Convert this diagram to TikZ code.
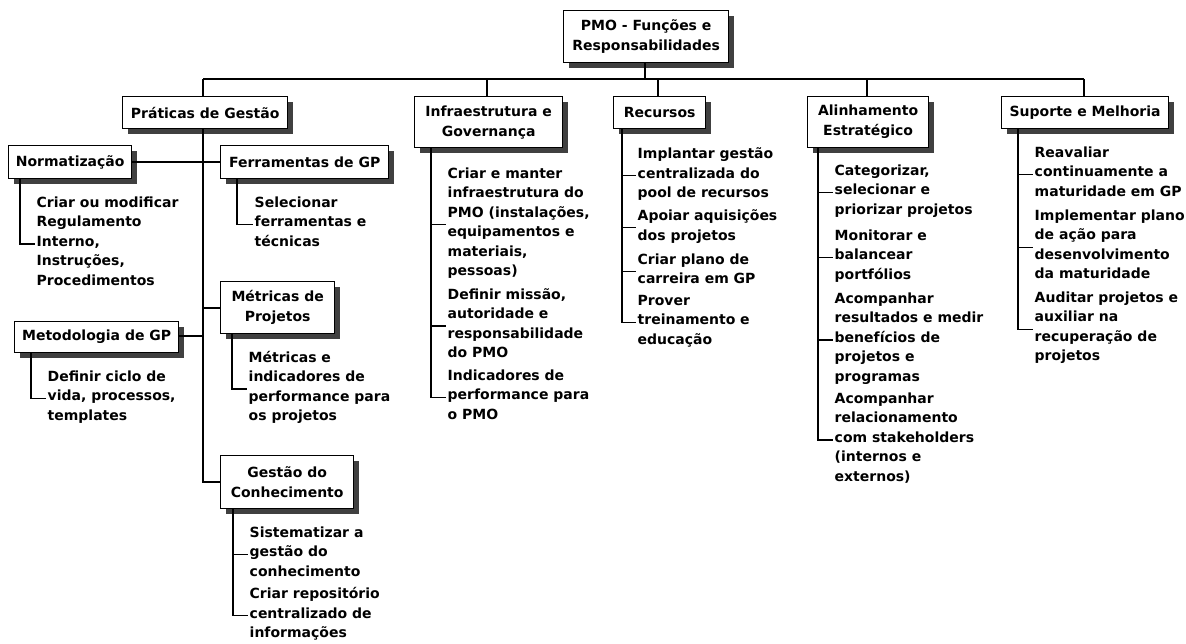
\documentclass[tikz,border=0pt]{standalone}
\usepackage{fontspec}
\setmainfont{DejaVu Sans}
\usetikzlibrary{calc}
\definecolor{shadowgray}{HTML}{404040}
\tikzset{
  every picture/.style={x=1pt,y=-1pt},
  conn/.style={draw=black, line width=1.3pt},
  box/.style={draw=black, line width=1.3pt, fill=white, inner sep=0pt, align=center,
    font=\fontsize{14}{20}\selectfont\bfseries},
  item/.style={inner xsep=1.5pt, inner ysep=0pt, align=left, anchor=west,
    font=\fontsize{14}{19.5}\selectfont\bfseries,
    execute at begin node=\strut, execute at end node=\strut},
}
% box: name, x1, y1, x2, y2, text
\newcommand{\mybox}[6]{%
  \fill[shadowgray] (#2+6,#3+6) rectangle (#4+6,#5+6);
  \node[box, minimum width=#4-#2, minimum height=#5-#3, anchor=north west] (#1) at (#2,#3) {#6};
}
\begin{document}
\begin{tikzpicture}
\useasboundingbox (0,0) rectangle (1186,644);
\fill[white] (0,0) rectangle (1186,644);

\coordinate (hl) at (203,79);
\coordinate (hr) at (1084,79);

\mybox{root}{563}{10}{728}{62}{PMO - Funções e\\Responsabilidades}
\mybox{prat}{122}{96}{287}{128}{Práticas de Gestão}
\mybox{infra}{414}{96}{562}{147}{Infraestrutura e\\Governança}
\mybox{rec}{613}{96}{705}{128}{Recursos}
\mybox{alin}{807}{96}{928}{147}{Alinhamento\\Estratégico}
\mybox{sup}{1001}{96}{1168}{128}{Suporte e Melhoria}
\mybox{norm}{8}{145}{131}{178}{Normatização}
\mybox{ferr}{220}{145}{388}{178}{Ferramentas de GP}
\mybox{metr}{220}{281}{334}{333}{Métricas de\\Projetos}
\mybox{meto}{14}{321}{178}{352}{Metodologia de GP}
\mybox{gest}{220}{455}{353}{508}{Gestão do\\Conhecimento}

% top level tree
\draw[conn] (hl) -- (hr);
\draw[conn] ([xshift=82pt]root.south west) -- (645,79);
\draw[conn] (hl) -- (prat.north -| hl);
\draw[conn] (487,79) -- (infra.north -| 487,0);
\draw[conn] (658,79) -- (rec.north -| 658,0);
\draw[conn] (867,79) -- (alin.north -| 867,0);
\draw[conn] (hr) -- (sup.north -| hr);

% Práticas de Gestão subtree
\coordinate (pv) at (203,482);
\draw[conn] (prat.south -| pv) -- (pv) -- (gest.west |- pv);
\draw[conn] (norm.east |- 0,162) -- (ferr.west |- 0,162);
\draw[conn] (203,308) -- (metr.west |- 0,308);
\draw[conn] (meto.east |- 0,336) -- (203,336);

% items
\node[item] (n1) at (35,244) {Criar ou modificar\\Regulamento\\Interno,\\Instruções,\\Procedimentos};
\node[item] (f1) at (253,224.5) {Selecionar\\ferramentas e\\técnicas};
\node[item] (m1) at (46,398.5) {Definir ciclo de\\vida, processos,\\templates};
\node[item] (p1) at (247,389) {Métricas e\\indicadores de\\performance para\\os projetos};
\node[item] (g1) at (248,554.5) {Sistematizar a\\gestão do\\conhecimento};
\node[item] (g2) at (248,615.5) {Criar repositório\\centralizado de\\informações};

\node[item] (i1) at (446,224.75) {Criar e manter\\infraestrutura do\\PMO (instalações,\\equipamentos e\\materiais,\\pessoas)};
\node[item] (i2) at (446,326) {Definir missão,\\autoridade e\\responsabilidade\\do PMO};
\node[item] (i3) at (446,397.5) {Indicadores de\\performance para\\o PMO};

\node[item] (r1) at (636,175.5) {Implantar gestão\\centralizada do\\pool de recursos};
\node[item] (r2) at (636,227.75) {Apoiar aquisições\\dos projetos};
\node[item] (r3) at (636,271.75) {Criar plano de\\carreira em GP};
\node[item] (r4) at (636,322.5) {Prover\\treinamento e\\educação};

\node[item] (a1) at (833,192.5) {Categorizar,\\selecionar e\\priorizar projetos};
\node[item] (a2) at (833,257.5) {Monitorar e\\balancear\\portfólios};
\node[item] (a3) at (833,340) {Acompanhar\\resultados e medir\\benefícios de\\projetos e\\programas};
\node[item] (a4) at (833,440) {Acompanhar\\relacionamento\\com stakeholders\\(internos e\\externos)};

\node[item] (s1) at (1033,174.5) {Reavaliar\\continuamente a\\maturidade em GP};
\node[item] (s2) at (1033,247.25) {Implementar plano\\de ação para\\desenvolvimento\\da maturidade};
\node[item] (s3) at (1033,329.25) {Auditar projetos e\\auxiliar na\\recuperação de\\projetos};

% item brackets
\draw[conn] ([xshift=12pt]norm.south west) |- (n1.west);
\draw[conn] ([xshift=17pt]ferr.south west) |- (f1.west);
\draw[conn] ([xshift=17pt]meto.south west) |- (m1.west);
\draw[conn] ([xshift=12pt]metr.south west) |- (p1.west);
\draw[conn] ([xshift=13pt]gest.south west) |- (g2.west);
\draw[conn] ([xshift=13pt]gest.south west) |- (g1.west);

\draw[conn] ([xshift=17pt]infra.south west) |- (i3.west);
\draw[conn] ([xshift=17pt]infra.south west) |- (i2.west);
\draw[conn] ([xshift=17pt]infra.south west) |- (i1.west);

\draw[conn] ([xshift=9pt]rec.south west) |- (r4.west);
\draw[conn] ([xshift=9pt]rec.south west) |- (r3.west);
\draw[conn] ([xshift=9pt]rec.south west) |- (r2.west);
\draw[conn] ([xshift=9pt]rec.south west) |- (r1.west);

\draw[conn] ([xshift=11pt]alin.south west) |- (a4.west);
\draw[conn] ([xshift=11pt]alin.south west) |- (a3.west);
\draw[conn] ([xshift=11pt]alin.south west) |- (a2.west);
\draw[conn] ([xshift=11pt]alin.south west) |- (a1.west);

\draw[conn] ([xshift=17pt]sup.south west) |- (s3.west);
\draw[conn] ([xshift=17pt]sup.south west) |- (s2.west);
\draw[conn] ([xshift=17pt]sup.south west) |- (s1.west);
\end{tikzpicture}
\end{document}
